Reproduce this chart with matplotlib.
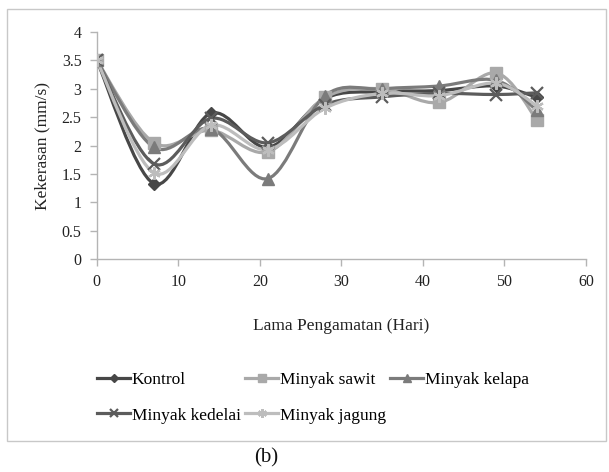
import matplotlib

matplotlib.use("Agg")
import matplotlib.pyplot as plt
import numpy as np
from matplotlib.patches import Rectangle, PathPatch
from matplotlib.path import Path
from matplotlib.lines import Line2D

plt.rcParams["font.family"] = ["Liberation Serif", "DejaVu Serif"]

days = [0, 7, 14, 21, 28, 35, 42, 49, 54]
kontrol = [3.5, 1.33, 2.57, 1.97, 2.83, 2.95, 2.97, 3.05, 2.85]
minyak_sawit = [3.5, 2.05, 2.27, 1.89, 2.85, 3.0, 2.76, 3.28, 2.45]
minyak_kelapa = [3.5, 1.97, 2.3, 1.42, 2.88, 3.0, 3.05, 3.15, 2.62]
minyak_kedelai = [3.5, 1.68, 2.48, 2.05, 2.72, 2.86, 2.92, 2.9, 2.93]
minyak_jagung = [3.5, 1.52, 2.36, 1.93, 2.66, 2.92, 2.88, 3.1, 2.7]

series = [
    ("Kontrol", kontrol, "#474747", "D", 6.5),
    ("Minyak sawit", minyak_sawit, "#a9a9a9", "s", 9),
    ("Minyak kelapa", minyak_kelapa, "#7b7b7b", "^", 9),
    ("Minyak kedelai", minyak_kedelai, "#5c5c5c", "x", 8),
    ("Minyak jagung", minyak_jagung, "#bdbdbd", (6, 2, 0), 9),
]


def smooth_path(xs, ys):
    # Excel-like smoothed line: cubic Bezier with Catmull-Rom style tangents
    pts = np.column_stack([xs, ys]).astype(float)
    n = len(pts)
    verts = [pts[0]]
    codes = [Path.MOVETO]
    for i in range(n - 1):
        p0 = pts[i - 1] if i > 0 else pts[i]
        p1, p2 = pts[i], pts[i + 1]
        p3 = pts[i + 2] if i + 2 < n else pts[i + 1]
        c1 = p1 + (p2 - p0) / 6.0
        c2 = p2 - (p3 - p1) / 6.0
        verts += [c1, c2, p2]
        codes += [Path.CURVE4] * 3
    return Path(verts, codes)


fig = plt.figure(figsize=(6.09, 4.72), dpi=100)
fig.patches.append(Rectangle((0.0115, 0.066), 0.984, 0.915, transform=fig.transFigure,
                             fill=False, edgecolor="#c8c8c8", linewidth=1.0))
ax = fig.add_axes([0.159, 0.451, 0.803, 0.481])

handles = {}
for name, vals, color, marker, ms in series:
    ax.add_patch(PathPatch(smooth_path(days, vals), facecolor="none", edgecolor=color,
                           linewidth=2.3, zorder=2, capstyle="round", joinstyle="round"))
    mew = 1.6 if marker in ("x",) or isinstance(marker, tuple) else 1.0
    ax.plot(days, vals, linestyle="none", marker=marker, markersize=ms, color=color,
            markeredgecolor=color, markeredgewidth=mew, zorder=3)
    handles[name] = Line2D([], [], color=color, linewidth=2.3, marker=marker,
                           markersize=ms * 0.7, markeredgewidth=mew, markeredgecolor=color)

ax.set_xlim(0, 60)
ax.set_ylim(0, 4)
ax.set_xticks(range(0, 61, 10))
ax.set_yticks(np.arange(0, 4.01, 0.5))
ax.set_yticklabels(["0", "0.5", "1", "1.5", "2", "2.5", "3", "3.5", "4"])
for side in ("top", "right"):
    ax.spines[side].set_visible(False)
for side in ("left", "bottom"):
    ax.spines[side].set_color("#b4b4b4")
    ax.spines[side].set_linewidth(1.0)
ax.tick_params(axis="both", direction="out", length=5, width=1.0, color="#b4b4b4",
               labelsize=11.5, labelcolor="#222222", pad=6)
ax.set_ylabel("Kekerasan (mm/s)", fontsize=12.5, color="#222222", labelpad=8)
ax.set_xlabel("Lama Pengamatan (Hari)", fontsize=12.5, color="#222222", labelpad=20)

order = ["Kontrol", "Minyak kedelai", "Minyak sawit", "Minyak jagung", "Minyak kelapa"]
fig.legend([handles[k] for k in order], order, ncol=3, loc="upper left",
           bbox_to_anchor=(0.148, 0.227), frameon=False, fontsize=12.5,
           handlelength=1.9, handletextpad=0.1, columnspacing=0.25, labelspacing=1.12,
           borderaxespad=0.0)

fig.text(0.437, 0.01, "(b)", ha="center", va="bottom", fontsize=15, color="#111111")

fig.savefig("out.png", dpi=100)
